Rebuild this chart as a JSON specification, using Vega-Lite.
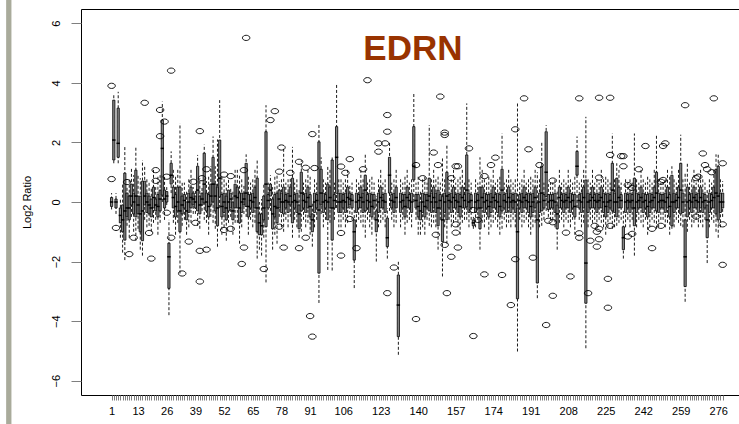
{
"$schema":"https://vega.github.io/schema/vega-lite/v6.json",
"width":658,"height":386,
"autosize":{"type":"none"},
"padding":{"left":81,"top":9,"right":0,"bottom":29},
"background":"white",
"config":{"view":{"stroke":"#000","strokeWidth":1},"font":"Liberation Sans","axis":{"grid":false}},
"datasets":{
"boxes":[
{"i":1,"lo":-0.25,"q1":-0.15,"md":0,"q3":0.15,"hi":0.3},
{"i":2,"lo":1.3,"q1":1.41,"md":2.08,"q3":3.42,"hi":3.59},
{"i":3,"lo":-0.4,"q1":-0.2,"md":0,"q3":0.1,"hi":0.3},
{"i":4,"lo":1.3,"q1":1.5,"md":1.97,"q3":3.15,"hi":3.7},
{"i":5,"lo":-1.2,"q1":-0.7,"md":-0.45,"q3":-0.2,"hi":0.1},
{"i":6,"lo":-1.7,"q1":-1,"md":-0.6,"q3":-0.1,"hi":0.6},
{"i":7,"lo":-1.95,"q1":-1.28,"md":-0.3,"q3":0.97,"hi":1.85},
{"i":8,"lo":-0.8,"q1":-0.5,"md":-0.2,"q3":0.3,"hi":0.5},
{"i":9,"lo":-1.2,"q1":-0.6,"md":-0.2,"q3":0.2,"hi":0.8},
{"i":10,"lo":-0.5,"q1":-0.1,"md":0.2,"q3":0.6,"hi":1.17},
{"i":11,"lo":-1,"q1":-0.4,"md":0,"q3":0.3,"hi":0.9},
{"i":12,"lo":-1.3,"q1":-0.5,"md":0.2,"q3":1.07,"hi":1.85},
{"i":13,"lo":-0.9,"q1":-0.4,"md":-0.1,"q3":0.2,"hi":0.9},
{"i":14,"lo":-1.6,"q1":-1,"md":-0.4,"q3":0.2,"hi":0.8},
{"i":15,"lo":-1.8,"q1":-1.3,"md":-0.3,"q3":0.7,"hi":1.4},
{"i":16,"lo":-0.6,"q1":-0.1,"md":0.2,"q3":0.7,"hi":1.2},
{"i":17,"lo":-0.85,"q1":-0.35,"md":0,"q3":0.3,"hi":0.8},
{"i":18,"lo":-0.8,"q1":-0.4,"md":-0.1,"q3":0.2,"hi":0.7},
{"i":19,"lo":-1,"q1":-0.5,"md":-0.2,"q3":0.1,"hi":0.5},
{"i":20,"lo":-0.7,"q1":-0.2,"md":0.15,"q3":0.5,"hi":1.1},
{"i":21,"lo":-0.6,"q1":-0.3,"md":-0.1,"q3":0.1,"hi":0.5},
{"i":22,"lo":-1.1,"q1":-0.5,"md":-0.15,"q3":0.25,"hi":0.85},
{"i":23,"lo":-0.7,"q1":-0.3,"md":0.1,"q3":0.4,"hi":0.9},
{"i":24,"lo":0,"q1":0.23,"md":1.8,"q3":2.75,"hi":3.37},
{"i":25,"lo":-0.6,"q1":-0.2,"md":0.1,"q3":0.4,"hi":0.9},
{"i":26,"lo":-0.1,"q1":0,"md":0.2,"q3":0.35,"hi":0.5},
{"i":27,"lo":-3.8,"q1":-2.9,"md":-1.84,"q3":-1.38,"hi":-0.6},
{"i":28,"lo":0.3,"q1":0.6,"md":0.9,"q3":1.3,"hi":1.7},
{"i":29,"lo":-0.7,"q1":-0.2,"md":0.15,"q3":0.5,"hi":1.1},
{"i":30,"lo":-1.1,"q1":-0.5,"md":-0.15,"q3":0.25,"hi":0.85},
{"i":31,"lo":-0.7,"q1":-0.3,"md":0,"q3":0.5,"hi":1.1},
{"i":32,"lo":-2.4,"q1":-1,"md":-0.3,"q3":0.5,"hi":2.64},
{"i":33,"lo":-0.8,"q1":-0.4,"md":-0.1,"q3":0.2,"hi":0.7},
{"i":34,"lo":-0.6,"q1":-0.2,"md":0.05,"q3":0.25,"hi":0.65},
{"i":35,"lo":-1.1,"q1":-0.6,"md":-0.3,"q3":0,"hi":0.4},
{"i":36,"lo":-0.85,"q1":-0.35,"md":0,"q3":0.3,"hi":0.8},
{"i":37,"lo":-0.7,"q1":-0.2,"md":0.15,"q3":0.5,"hi":1.1},
{"i":38,"lo":-0.4,"q1":-0.1,"md":0.1,"q3":0.3,"hi":0.5},
{"i":39,"lo":-0.4,"q1":-0.2,"md":0,"q3":0.2,"hi":0.4},
{"i":40,"lo":-0.8,"q1":-0.3,"md":0.4,"q3":1.2,"hi":1.58},
{"i":41,"lo":-0.9,"q1":-0.4,"md":-0.1,"q3":0.2,"hi":0.8},
{"i":42,"lo":-0.3,"q1":-0.1,"md":0.1,"q3":0.3,"hi":0.5},
{"i":43,"lo":-0.6,"q1":-0.03,"md":0.6,"q3":1.64,"hi":1.93},
{"i":44,"lo":-0.7,"q1":-0.3,"md":0,"q3":0.3,"hi":0.7},
{"i":45,"lo":-1.1,"q1":-0.5,"md":-0.15,"q3":0.25,"hi":0.85},
{"i":46,"lo":-0.5,"q1":-0.1,"md":0.2,"q3":0.6,"hi":1.2},
{"i":47,"lo":-0.7,"q1":0,"md":0.6,"q3":1.5,"hi":2.2},
{"i":48,"lo":-0.9,"q1":-0.3,"md":0.2,"q3":0.6,"hi":1.2},
{"i":49,"lo":-1.5,"q1":-0.8,"md":-0.2,"q3":0.5,"hi":2.1},
{"i":50,"lo":-0.2,"q1":0.17,"md":0.8,"q3":2.08,"hi":3.42},
{"i":51,"lo":-1.1,"q1":-0.5,"md":-0.15,"q3":0.25,"hi":0.85},
{"i":52,"lo":-0.85,"q1":-0.35,"md":0,"q3":0.3,"hi":0.8},
{"i":53,"lo":-1.3,"q1":-0.6,"md":-0.2,"q3":0.2,"hi":0.7},
{"i":54,"lo":-0.7,"q1":-0.3,"md":0,"q3":0.4,"hi":0.8},
{"i":55,"lo":-0.5,"q1":-0.2,"md":0.1,"q3":0.3,"hi":0.5},
{"i":56,"lo":-1.1,"q1":-0.6,"md":-0.3,"q3":0,"hi":0.4},
{"i":57,"lo":-0.7,"q1":-0.2,"md":0.2,"q3":0.6,"hi":1.1},
{"i":58,"lo":-0.7,"q1":-0.2,"md":0.15,"q3":0.5,"hi":1.1},
{"i":59,"lo":-1.4,"q1":-0.7,"md":-0.2,"q3":0.3,"hi":0.9},
{"i":60,"lo":-0.85,"q1":-0.35,"md":0,"q3":0.3,"hi":0.8},
{"i":61,"lo":-0.4,"q1":-0.1,"md":0.1,"q3":0.3,"hi":0.6},
{"i":62,"lo":-0.5,"q1":-0.15,"md":0.3,"q3":1.3,"hi":1.6},
{"i":63,"lo":-1.1,"q1":-0.5,"md":-0.15,"q3":0.25,"hi":0.85},
{"i":64,"lo":-0.6,"q1":-0.2,"md":0.05,"q3":0.25,"hi":0.65},
{"i":65,"lo":-0.85,"q1":-0.35,"md":0,"q3":0.3,"hi":0.8},
{"i":66,"lo":-0.7,"q1":-0.2,"md":0.15,"q3":0.5,"hi":1.1},
{"i":67,"lo":-1.9,"q1":-1,"md":-0.2,"q3":0.8,"hi":1.4},
{"i":68,"lo":-1.6,"q1":-1.1,"md":-0.7,"q3":-0.4,"hi":0},
{"i":69,"lo":-1.8,"q1":-1.1,"md":-0.8,"q3":-0.4,"hi":0.1},
{"i":70,"lo":-1.2,"q1":-0.6,"md":-0.2,"q3":0.2,"hi":0.6},
{"i":71,"lo":-2.7,"q1":-0.83,"md":0.6,"q3":2.36,"hi":3.25},
{"i":72,"lo":-0.6,"q1":-0.2,"md":0.05,"q3":0.25,"hi":0.65},
{"i":73,"lo":-0.3,"q1":0.2,"md":0.4,"q3":0.6,"hi":0.9},
{"i":74,"lo":-1.6,"q1":-0.9,"md":-0.4,"q3":0.1,"hi":0.5},
{"i":75,"lo":-1.1,"q1":-0.5,"md":-0.15,"q3":0.25,"hi":0.85},
{"i":76,"lo":-1.4,"q1":-0.7,"md":-0.2,"q3":0.3,"hi":0.9},
{"i":77,"lo":-0.5,"q1":-0.2,"md":0.1,"q3":0.4,"hi":0.7},
{"i":78,"lo":-0.85,"q1":-0.35,"md":0,"q3":0.3,"hi":0.8},
{"i":79,"lo":-1,"q1":-0.4,"md":0,"q3":0.5,"hi":1.85},
{"i":80,"lo":-0.6,"q1":-0.2,"md":0.05,"q3":0.25,"hi":0.65},
{"i":81,"lo":-0.85,"q1":-0.35,"md":0,"q3":0.3,"hi":0.8},
{"i":82,"lo":-0.5,"q1":-0.1,"md":0.2,"q3":0.5,"hi":0.8},
{"i":83,"lo":-1.2,"q1":-0.7,"md":0,"q3":0.8,"hi":1.85},
{"i":84,"lo":-0.6,"q1":-0.2,"md":0.05,"q3":0.25,"hi":0.65},
{"i":85,"lo":-0.85,"q1":-0.35,"md":0,"q3":0.3,"hi":0.8},
{"i":86,"lo":-1.2,"q1":-0.9,"md":-0.4,"q3":-0.1,"hi":0.4},
{"i":87,"lo":-1,"q1":-0.3,"md":0.3,"q3":1,"hi":1.4},
{"i":88,"lo":-0.6,"q1":-0.2,"md":0.05,"q3":0.25,"hi":0.65},
{"i":89,"lo":-0.85,"q1":-0.35,"md":0,"q3":0.3,"hi":0.8},
{"i":90,"lo":-0.7,"q1":-0.2,"md":0.15,"q3":0.5,"hi":1.1},
{"i":91,"lo":-1.1,"q1":-0.5,"md":-0.15,"q3":0.25,"hi":0.85},
{"i":92,"lo":-1.5,"q1":-1,"md":-0.6,"q3":-0.4,"hi":0},
{"i":93,"lo":-0.85,"q1":-0.35,"md":0,"q3":0.3,"hi":0.8},
{"i":94,"lo":-0.6,"q1":-0.2,"md":0.05,"q3":0.25,"hi":0.65},
{"i":95,"lo":-3.39,"q1":-2.39,"md":-0.27,"q3":2.02,"hi":2.64},
{"i":96,"lo":-0.4,"q1":-0.1,"md":0.3,"q3":1.1,"hi":1.5},
{"i":97,"lo":-0.85,"q1":-0.35,"md":0,"q3":0.3,"hi":0.8},
{"i":98,"lo":-0.6,"q1":-0.2,"md":0.05,"q3":0.25,"hi":0.65},
{"i":99,"lo":-2.28,"q1":-0.6,"md":0,"q3":0.6,"hi":1.2},
{"i":100,"lo":-0.7,"q1":-0.2,"md":0.15,"q3":0.5,"hi":1.1},
{"i":101,"lo":-2.3,"q1":-1.28,"md":-0.2,"q3":1.41,"hi":1.5},
{"i":102,"lo":-0.6,"q1":-0.2,"md":0.05,"q3":0.25,"hi":0.65},
{"i":103,"lo":-0.2,"q1":0.29,"md":1.5,"q3":2.53,"hi":3.98},
{"i":104,"lo":-0.85,"q1":-0.35,"md":0,"q3":0.3,"hi":0.8},
{"i":105,"lo":-0.85,"q1":-0.35,"md":0,"q3":0.3,"hi":0.8},
{"i":106,"lo":-0.6,"q1":-0.2,"md":0.05,"q3":0.25,"hi":0.65},
{"i":107,"lo":-0.85,"q1":-0.35,"md":0,"q3":0.3,"hi":0.8},
{"i":108,"lo":-0.7,"q1":-0.2,"md":0.15,"q3":0.5,"hi":1.1},
{"i":109,"lo":-0.4,"q1":-0.1,"md":0.1,"q3":0.3,"hi":0.6},
{"i":110,"lo":-0.6,"q1":-0.2,"md":0.05,"q3":0.25,"hi":0.65},
{"i":111,"lo":-2.89,"q1":-1.95,"md":-1,"q3":-0.6,"hi":-0.2},
{"i":112,"lo":-0.85,"q1":-0.35,"md":0,"q3":0.3,"hi":0.8},
{"i":113,"lo":-0.6,"q1":-0.2,"md":0.05,"q3":0.25,"hi":0.65},
{"i":114,"lo":-0.7,"q1":-0.2,"md":0.15,"q3":0.5,"hi":1.1},
{"i":115,"lo":-0.85,"q1":-0.35,"md":0,"q3":0.3,"hi":0.8},
{"i":116,"lo":-1.2,"q1":-0.3,"md":0.4,"q3":0.9,"hi":1.6},
{"i":117,"lo":-0.6,"q1":-0.2,"md":0.05,"q3":0.25,"hi":0.65},
{"i":118,"lo":-0.85,"q1":-0.35,"md":0,"q3":0.3,"hi":0.8},
{"i":119,"lo":-1.1,"q1":-0.5,"md":-0.15,"q3":0.25,"hi":0.85},
{"i":120,"lo":-0.6,"q1":-0.2,"md":0.05,"q3":0.25,"hi":0.65},
{"i":121,"lo":-2,"q1":-1,"md":-0.6,"q3":-0.3,"hi":0.2},
{"i":122,"lo":-0.85,"q1":-0.35,"md":0,"q3":0.3,"hi":0.8},
{"i":123,"lo":-0.7,"q1":-0.2,"md":0.15,"q3":0.5,"hi":1.1},
{"i":124,"lo":-0.6,"q1":-0.2,"md":0.05,"q3":0.25,"hi":0.65},
{"i":125,"lo":-0.85,"q1":-0.35,"md":0,"q3":0.3,"hi":0.8},
{"i":126,"lo":-1.9,"q1":-1.5,"md":-1.2,"q3":-0.54,"hi":-0.2},
{"i":127,"lo":-0.3,"q1":0.3,"md":0.9,"q3":1.5,"hi":2},
{"i":128,"lo":-0.6,"q1":-0.2,"md":0.05,"q3":0.25,"hi":0.65},
{"i":129,"lo":-0.85,"q1":-0.35,"md":0,"q3":0.3,"hi":0.8},
{"i":130,"lo":-0.7,"q1":-0.2,"md":0.15,"q3":0.5,"hi":1.1},
{"i":131,"lo":-5.13,"q1":-4.52,"md":-3.46,"q3":-2.45,"hi":-2},
{"i":132,"lo":-0.85,"q1":-0.35,"md":0,"q3":0.3,"hi":0.8},
{"i":133,"lo":-0.6,"q1":-0.2,"md":0.05,"q3":0.25,"hi":0.65},
{"i":134,"lo":-1.1,"q1":-0.5,"md":-0.15,"q3":0.25,"hi":0.85},
{"i":135,"lo":-0.7,"q1":-0.2,"md":0.15,"q3":0.5,"hi":1.1},
{"i":136,"lo":-0.6,"q1":-0.2,"md":0.05,"q3":0.25,"hi":0.65},
{"i":137,"lo":-0.85,"q1":-0.35,"md":0,"q3":0.3,"hi":0.8},
{"i":138,"lo":0,"q1":0.74,"md":1.2,"q3":2.53,"hi":3.65},
{"i":139,"lo":-0.6,"q1":-0.2,"md":0.05,"q3":0.25,"hi":0.65},
{"i":140,"lo":-1.1,"q1":-0.5,"md":-0.15,"q3":0.25,"hi":0.85},
{"i":141,"lo":-1.1,"q1":-0.6,"md":-0.3,"q3":0,"hi":0.4},
{"i":142,"lo":-0.85,"q1":-0.35,"md":0,"q3":0.3,"hi":0.8},
{"i":143,"lo":-1.1,"q1":-0.5,"md":-0.15,"q3":0.25,"hi":0.85},
{"i":144,"lo":-0.6,"q1":-0.2,"md":0.05,"q3":0.25,"hi":0.65},
{"i":145,"lo":-0.8,"q1":-0.3,"md":0.2,"q3":0.8,"hi":2.58},
{"i":146,"lo":-0.85,"q1":-0.35,"md":0,"q3":0.3,"hi":0.8},
{"i":147,"lo":-0.7,"q1":-0.2,"md":0.15,"q3":0.5,"hi":1.1},
{"i":148,"lo":-0.85,"q1":-0.35,"md":0,"q3":0.3,"hi":0.8},
{"i":149,"lo":-1.6,"q1":-0.8,"md":-0.2,"q3":0.4,"hi":0.9},
{"i":150,"lo":-0.6,"q1":-0.2,"md":0.05,"q3":0.25,"hi":0.65},
{"i":151,"lo":-2.5,"q1":-1.33,"md":-0.6,"q3":0.18,"hi":1.5},
{"i":152,"lo":-0.85,"q1":-0.35,"md":0,"q3":0.3,"hi":0.8},
{"i":153,"lo":-1.4,"q1":-0.6,"md":0.2,"q3":1,"hi":1.9},
{"i":154,"lo":-0.6,"q1":-0.2,"md":0.05,"q3":0.25,"hi":0.65},
{"i":155,"lo":-0.85,"q1":-0.35,"md":0,"q3":0.3,"hi":0.8},
{"i":156,"lo":-0.7,"q1":-0.2,"md":0.15,"q3":0.5,"hi":1.1},
{"i":157,"lo":-0.6,"q1":-0.2,"md":0.05,"q3":0.25,"hi":0.65},
{"i":158,"lo":-0.85,"q1":-0.35,"md":0,"q3":0.3,"hi":0.8},
{"i":159,"lo":-1.1,"q1":-0.5,"md":-0.15,"q3":0.25,"hi":0.85},
{"i":160,"lo":-0.7,"q1":-0.2,"md":0.15,"q3":0.5,"hi":1.1},
{"i":161,"lo":-0.6,"q1":-0.2,"md":0.05,"q3":0.25,"hi":0.65},
{"i":162,"lo":-0.6,"q1":-0.16,"md":0.4,"q3":1.58,"hi":3.31},
{"i":163,"lo":-0.85,"q1":-0.35,"md":0,"q3":0.3,"hi":0.8},
{"i":164,"lo":-0.6,"q1":-0.2,"md":0.05,"q3":0.25,"hi":0.65},
{"i":165,"lo":-0.9,"q1":-0.8,"md":-0.7,"q3":-0.6,"hi":-0.5},
{"i":166,"lo":-0.85,"q1":-0.35,"md":0,"q3":0.3,"hi":0.8},
{"i":167,"lo":-0.6,"q1":-0.2,"md":0.05,"q3":0.25,"hi":0.65},
{"i":168,"lo":-1.6,"q1":-0.9,"md":-0.2,"q3":0.5,"hi":1.5},
{"i":169,"lo":-0.7,"q1":-0.2,"md":0.15,"q3":0.5,"hi":1.1},
{"i":170,"lo":-0.85,"q1":-0.35,"md":0,"q3":0.3,"hi":0.8},
{"i":171,"lo":-0.6,"q1":-0.2,"md":0.05,"q3":0.25,"hi":0.65},
{"i":172,"lo":-1.1,"q1":-0.5,"md":-0.15,"q3":0.25,"hi":0.85},
{"i":173,"lo":-0.85,"q1":-0.35,"md":0,"q3":0.3,"hi":0.8},
{"i":174,"lo":-0.7,"q1":-0.2,"md":0.15,"q3":0.5,"hi":1.1},
{"i":175,"lo":-0.6,"q1":-0.2,"md":0.05,"q3":0.25,"hi":0.65},
{"i":176,"lo":-0.85,"q1":-0.35,"md":0,"q3":0.3,"hi":0.8},
{"i":177,"lo":-1.1,"q1":-0.5,"md":-0.15,"q3":0.25,"hi":0.85},
{"i":178,"lo":-0.9,"q1":-0.3,"md":0.4,"q3":1.1,"hi":2.3},
{"i":179,"lo":-0.6,"q1":-0.2,"md":0.05,"q3":0.25,"hi":0.65},
{"i":180,"lo":-0.85,"q1":-0.35,"md":0,"q3":0.3,"hi":0.8},
{"i":181,"lo":-0.7,"q1":-0.2,"md":0.15,"q3":0.5,"hi":1.1},
{"i":182,"lo":-0.85,"q1":-0.35,"md":0,"q3":0.3,"hi":0.8},
{"i":183,"lo":-0.6,"q1":-0.2,"md":0.05,"q3":0.25,"hi":0.65},
{"i":184,"lo":-0.85,"q1":-0.35,"md":0,"q3":0.3,"hi":0.8},
{"i":185,"lo":-5.02,"q1":-3.25,"md":-1,"q3":-0.2,"hi":3.36},
{"i":186,"lo":-0.6,"q1":-0.2,"md":0.05,"q3":0.25,"hi":0.65},
{"i":187,"lo":-0.85,"q1":-0.35,"md":0,"q3":0.3,"hi":0.8},
{"i":188,"lo":-0.7,"q1":-0.2,"md":0.15,"q3":0.5,"hi":1.1},
{"i":189,"lo":-0.6,"q1":-0.2,"md":0.05,"q3":0.25,"hi":0.65},
{"i":190,"lo":-0.85,"q1":-0.35,"md":0,"q3":0.3,"hi":0.8},
{"i":191,"lo":-1.1,"q1":-0.5,"md":-0.15,"q3":0.25,"hi":0.85},
{"i":192,"lo":-0.85,"q1":-0.35,"md":0,"q3":0.3,"hi":0.8},
{"i":193,"lo":-0.7,"q1":-0.2,"md":0.15,"q3":0.5,"hi":1.1},
{"i":194,"lo":-3.23,"q1":-2.72,"md":-0.6,"q3":-0.03,"hi":1},
{"i":195,"lo":-0.85,"q1":-0.35,"md":0,"q3":0.3,"hi":0.8},
{"i":196,"lo":-0.8,"q1":-0.3,"md":0.3,"q3":1.2,"hi":2},
{"i":197,"lo":-0.6,"q1":-0.2,"md":0.05,"q3":0.25,"hi":0.65},
{"i":198,"lo":-0.3,"q1":0.18,"md":1,"q3":2.36,"hi":2.58},
{"i":199,"lo":-0.5,"q1":-0.25,"md":0,"q3":0.25,"hi":0.6},
{"i":200,"lo":-0.6,"q1":-0.2,"md":0.05,"q3":0.25,"hi":0.65},
{"i":201,"lo":-0.6,"q1":-0.2,"md":0.05,"q3":0.25,"hi":0.65},
{"i":202,"lo":-0.85,"q1":-0.35,"md":0,"q3":0.3,"hi":0.8},
{"i":203,"lo":-1.6,"q1":-0.9,"md":-0.4,"q3":-0.1,"hi":0.4},
{"i":204,"lo":-0.7,"q1":-0.2,"md":0.15,"q3":0.5,"hi":1.1},
{"i":205,"lo":-0.6,"q1":-0.2,"md":0.05,"q3":0.25,"hi":0.65},
{"i":206,"lo":-0.85,"q1":-0.35,"md":0,"q3":0.3,"hi":0.8},
{"i":207,"lo":-0.6,"q1":-0.2,"md":0.05,"q3":0.25,"hi":0.65},
{"i":208,"lo":-0.7,"q1":-0.2,"md":0.15,"q3":0.5,"hi":1.1},
{"i":209,"lo":-0.85,"q1":-0.35,"md":0,"q3":0.3,"hi":0.8},
{"i":210,"lo":-0.6,"q1":-0.2,"md":0.05,"q3":0.25,"hi":0.65},
{"i":211,"lo":-1.1,"q1":-0.5,"md":-0.15,"q3":0.25,"hi":0.85},
{"i":212,"lo":-0.2,"q1":0.9,"md":1.2,"q3":1.7,"hi":2.2},
{"i":213,"lo":-0.6,"q1":-0.2,"md":0.05,"q3":0.25,"hi":0.65},
{"i":214,"lo":-0.85,"q1":-0.35,"md":0,"q3":0.3,"hi":0.8},
{"i":215,"lo":-0.7,"q1":-0.2,"md":0.15,"q3":0.5,"hi":1.1},
{"i":216,"lo":-4.91,"q1":-3.4,"md":-2.05,"q3":0.74,"hi":2.86},
{"i":217,"lo":-0.85,"q1":-0.35,"md":0,"q3":0.3,"hi":0.8},
{"i":218,"lo":-0.6,"q1":-0.2,"md":0.05,"q3":0.25,"hi":0.65},
{"i":219,"lo":-0.7,"q1":-0.2,"md":0.15,"q3":0.5,"hi":1.1},
{"i":220,"lo":-0.6,"q1":-0.2,"md":0.05,"q3":0.25,"hi":0.65},
{"i":221,"lo":-0.85,"q1":-0.35,"md":0,"q3":0.3,"hi":0.8},
{"i":222,"lo":-0.6,"q1":-0.2,"md":0.05,"q3":0.25,"hi":0.65},
{"i":223,"lo":-0.7,"q1":-0.2,"md":0.15,"q3":0.5,"hi":1.1},
{"i":224,"lo":-0.85,"q1":-0.35,"md":0,"q3":0.3,"hi":0.8},
{"i":225,"lo":-1.1,"q1":-0.5,"md":-0.15,"q3":0.25,"hi":0.85},
{"i":226,"lo":-0.85,"q1":-0.35,"md":0,"q3":0.3,"hi":0.8},
{"i":227,"lo":-0.6,"q1":-0.2,"md":0.05,"q3":0.25,"hi":0.65},
{"i":228,"lo":-0.9,"q1":-0.3,"md":0.4,"q3":1.3,"hi":2.3},
{"i":229,"lo":-0.85,"q1":-0.35,"md":0,"q3":0.3,"hi":0.8},
{"i":230,"lo":-0.8,"q1":-0.5,"md":0,"q3":0.8,"hi":1.3},
{"i":231,"lo":-0.7,"q1":-0.2,"md":0.15,"q3":0.5,"hi":1.1},
{"i":232,"lo":-0.6,"q1":-0.2,"md":0.05,"q3":0.25,"hi":0.65},
{"i":233,"lo":-1.9,"q1":-1.6,"md":-1.2,"q3":-0.83,"hi":-0.3},
{"i":234,"lo":-0.85,"q1":-0.35,"md":0,"q3":0.3,"hi":0.8},
{"i":235,"lo":-0.6,"q1":-0.2,"md":0.05,"q3":0.25,"hi":0.65},
{"i":236,"lo":-0.85,"q1":-0.35,"md":0,"q3":0.3,"hi":0.8},
{"i":237,"lo":-0.6,"q1":-0.2,"md":0.05,"q3":0.25,"hi":0.65},
{"i":238,"lo":-1.8,"q1":-0.8,"md":-0.2,"q3":0.8,"hi":2.3},
{"i":239,"lo":-0.85,"q1":-0.35,"md":0,"q3":0.3,"hi":0.8},
{"i":240,"lo":-0.6,"q1":-0.2,"md":0.05,"q3":0.25,"hi":0.65},
{"i":241,"lo":-0.7,"q1":-0.2,"md":0.15,"q3":0.5,"hi":1.1},
{"i":242,"lo":-0.85,"q1":-0.35,"md":0,"q3":0.3,"hi":0.8},
{"i":243,"lo":-0.6,"q1":-0.2,"md":0.05,"q3":0.25,"hi":0.65},
{"i":244,"lo":-1.1,"q1":-0.5,"md":-0.15,"q3":0.25,"hi":0.85},
{"i":245,"lo":-0.85,"q1":-0.35,"md":0,"q3":0.3,"hi":0.8},
{"i":246,"lo":-0.6,"q1":-0.2,"md":0.05,"q3":0.25,"hi":0.65},
{"i":247,"lo":-0.7,"q1":-0.2,"md":0.15,"q3":0.5,"hi":1.1},
{"i":248,"lo":-0.9,"q1":-0.3,"md":0.3,"q3":1,"hi":2.26},
{"i":249,"lo":-0.85,"q1":-0.35,"md":0,"q3":0.3,"hi":0.8},
{"i":250,"lo":-0.6,"q1":-0.2,"md":0.05,"q3":0.25,"hi":0.65},
{"i":251,"lo":-0.6,"q1":-0.2,"md":0.05,"q3":0.25,"hi":0.65},
{"i":252,"lo":-0.85,"q1":-0.35,"md":0,"q3":0.3,"hi":0.8},
{"i":253,"lo":-0.7,"q1":-0.2,"md":0.15,"q3":0.5,"hi":1.1},
{"i":254,"lo":-1.1,"q1":-0.5,"md":-0.15,"q3":0.25,"hi":0.85},
{"i":255,"lo":-0.9,"q1":-0.8,"md":0,"q3":0.9,"hi":1.2},
{"i":256,"lo":-0.85,"q1":-0.35,"md":0,"q3":0.3,"hi":0.8},
{"i":257,"lo":-0.6,"q1":-0.2,"md":0.05,"q3":0.25,"hi":0.65},
{"i":258,"lo":-0.7,"q1":-0.2,"md":0.15,"q3":0.5,"hi":1.1},
{"i":259,"lo":-0.8,"q1":-0.4,"md":0.4,"q3":1.3,"hi":2.26},
{"i":260,"lo":-0.85,"q1":-0.35,"md":0,"q3":0.3,"hi":0.8},
{"i":261,"lo":-3.35,"q1":-2.84,"md":-1.84,"q3":-0.6,"hi":1},
{"i":262,"lo":-1,"q1":-0.5,"md":0,"q3":0.5,"hi":1.3},
{"i":263,"lo":-0.6,"q1":-0.2,"md":0.05,"q3":0.25,"hi":0.65},
{"i":264,"lo":-0.85,"q1":-0.35,"md":0,"q3":0.3,"hi":0.8},
{"i":265,"lo":-0.7,"q1":-0.2,"md":0.15,"q3":0.5,"hi":1.1},
{"i":266,"lo":-0.6,"q1":-0.2,"md":0.05,"q3":0.25,"hi":0.65},
{"i":267,"lo":-0.85,"q1":-0.35,"md":0,"q3":0.3,"hi":0.8},
{"i":268,"lo":-0.7,"q1":-0.2,"md":0.15,"q3":0.5,"hi":1.1},
{"i":269,"lo":-0.85,"q1":-0.35,"md":0,"q3":0.3,"hi":0.8},
{"i":270,"lo":-0.6,"q1":-0.2,"md":0.05,"q3":0.25,"hi":0.65},
{"i":271,"lo":-2.05,"q1":-1.2,"md":-0.6,"q3":-0.1,"hi":0.4},
{"i":272,"lo":-0.85,"q1":-0.35,"md":0,"q3":0.3,"hi":0.8},
{"i":273,"lo":-0.6,"q1":-0.2,"md":0.05,"q3":0.25,"hi":0.65},
{"i":274,"lo":-0.7,"q1":-0.2,"md":0.15,"q3":0.5,"hi":1.1},
{"i":275,"lo":-1,"q1":-0.4,"md":0.3,"q3":1.1,"hi":1.6},
{"i":276,"lo":-1.2,"q1":-0.6,"md":0.2,"q3":1.2,"hi":1.6},
{"i":277,"lo":-0.85,"q1":-0.35,"md":0,"q3":0.3,"hi":0.8},
{"i":278,"lo":-0.5,"q1":-0.2,"md":0,"q3":0.3,"hi":0.7}
],
"outliers":[
{"i":1,"v":3.9},{"i":1,"v":0.77},{"i":3,"v":-0.87},{"i":8,"v":0.67},{"i":9,"v":-1.75},{"i":11,"v":-1.2},{"i":16,"v":3.33},{"i":18,"v":-1.04},{"i":19,"v":-1.9},{"i":21,"v":1.07},{"i":21,"v":0.71},{"i":23,"v":3.09},{"i":23,"v":2.21},{"i":25,"v":2.7},{"i":26,"v":0.85},{"i":26,"v":-0.36},{"i":28,"v":4.41},{"i":28,"v":-1.2},{"i":33,"v":-2.4},{"i":36,"v":-1.33},{"i":38,"v":0.68},{"i":39,"v":-0.7},{"i":41,"v":2.38},{"i":41,"v":-1.64},{"i":41,"v":-2.67},{"i":42,"v":0.8},{"i":44,"v":1.1},{"i":44,"v":-1.6},{"i":52,"v":-0.94},{"i":52,"v":0.92},{"i":55,"v":-0.9},{"i":55,"v":0.87},{"i":60,"v":-2.08},{"i":61,"v":-1.53},{"i":61,"v":1.07},{"i":62,"v":5.51},{"i":70,"v":-2.25},{"i":73,"v":2.75},{"i":75,"v":3.05},{"i":77,"v":1.02},{"i":77,"v":-0.83},{"i":78,"v":1.83},{"i":79,"v":-1.53},{"i":82,"v":0.98},{"i":86,"v":1.35},{"i":86,"v":-1.55},{"i":89,"v":1.15},{"i":89,"v":-1.2},{"i":91,"v":-3.83},{"i":92,"v":-4.52},{"i":92,"v":2.28},{"i":93,"v":1.14},{"i":105,"v":1.19},{"i":105,"v":-1.04},{"i":105,"v":-1.8},{"i":107,"v":0.98},{"i":109,"v":1.44},{"i":109,"v":-0.57},{"i":112,"v":-1.55},{"i":115,"v":1.1},{"i":117,"v":4.09},{"i":122,"v":1.97},{"i":122,"v":1.69},{"i":125,"v":1.97},{"i":126,"v":2.92},{"i":126,"v":2.36},{"i":126,"v":-3.06},{"i":129,"v":-2.2},{"i":139,"v":-3.93},{"i":139,"v":1.24},{"i":142,"v":0.8},{"i":147,"v":1.66},{"i":148,"v":-1.1},{"i":149,"v":1.24},{"i":150,"v":3.54},{"i":152,"v":2.33},{"i":152,"v":2.25},{"i":152,"v":-1.44},{"i":153,"v":-3.06},{"i":155,"v":-1.84},{"i":155,"v":0.8},{"i":157,"v":-1.03},{"i":157,"v":-0.75},{"i":157,"v":1.2},{"i":158,"v":-1.53},{"i":158,"v":1.2},{"i":163,"v":1.8},{"i":165,"v":-0.27},{"i":165,"v":-4.5},{"i":167,"v":-0.6},{"i":170,"v":0.87},{"i":170,"v":-2.43},{"i":173,"v":1.24},{"i":175,"v":1.49},{"i":178,"v":-2.45},{"i":182,"v":-3.46},{"i":184,"v":2.44},{"i":184,"v":-1.92},{"i":188,"v":3.48},{"i":190,"v":1.77},{"i":192,"v":-1.87},{"i":195,"v":1.24},{"i":198,"v":-4.13},{"i":199,"v":-0.63},{"i":201,"v":-3.15},{"i":201,"v":0.72},{"i":201,"v":-0.68},{"i":207,"v":-1.03},{"i":209,"v":-2.5},{"i":213,"v":3.48},{"i":213,"v":-1.05},{"i":213,"v":-1.2},{"i":217,"v":-3.06},{"i":218,"v":-1.3},{"i":220,"v":-0.8},{"i":221,"v":-1},{"i":221,"v":-1.5},{"i":222,"v":3.5},{"i":222,"v":-0.9},{"i":222,"v":-1.25},{"i":222,"v":0.82},{"i":226,"v":-2.58},{"i":226,"v":-3.55},{"i":227,"v":3.5},{"i":227,"v":1.58},{"i":227,"v":-0.8},{"i":232,"v":1.54},{"i":233,"v":1.54},{"i":233,"v":1.2},{"i":235,"v":0.57},{"i":235,"v":-1.16},{"i":237,"v":0.47},{"i":237,"v":-1.07},{"i":240,"v":1.1},{"i":243,"v":1.88},{"i":246,"v":-0.9},{"i":246,"v":-1.55},{"i":250,"v":0.68},{"i":250,"v":-0.8},{"i":251,"v":0.74},{"i":251,"v":1.88},{"i":252,"v":1.97},{"i":261,"v":3.25},{"i":266,"v":0.8},{"i":266,"v":-0.49},{"i":267,"v":0.85},{"i":269,"v":1.63},{"i":270,"v":1.24},{"i":271,"v":1.1},{"i":273,"v":1},{"i":274,"v":3.48},{"i":278,"v":1.3},{"i":278,"v":-0.75},{"i":278,"v":-2.11}
],
"label":[{"t":"EDRN"}],
"strip":[{"k":"edge"}]
},
"layer":[
{"data":{"name":"boxes"},"mark":{"type":"rule","strokeDash":[3,2],"strokeWidth":0.9,"color":"#000"},
 "encoding":{
  "x":{"field":"i","type":"quantitative","scale":{"domain":[-10.6,283.15],"nice":false,"zero":false},
   "axis":{"title":null,"tickCount":400,"values":[1,2,3,4,5,6,7,8,9,10,11,12,13,14,15,16,17,18,19,20,21,22,23,24,25,26,27,28,29,30,31,32,33,34,35,36,37,38,39,40,41,42,43,44,45,46,47,48,49,50,51,52,53,54,55,56,57,58,59,60,61,62,63,64,65,66,67,68,69,70,71,72,73,74,75,76,77,78,79,80,81,82,83,84,85,86,87,88,89,90,91,92,93,94,95,96,97,98,99,100,101,102,103,104,105,106,107,108,109,110,111,112,113,114,115,116,117,118,119,120,121,122,123,124,125,126,127,128,129,130,131,132,133,134,135,136,137,138,139,140,141,142,143,144,145,146,147,148,149,150,151,152,153,154,155,156,157,158,159,160,161,162,163,164,165,166,167,168,169,170,171,172,173,174,175,176,177,178,179,180,181,182,183,184,185,186,187,188,189,190,191,192,193,194,195,196,197,198,199,200,201,202,203,204,205,206,207,208,209,210,211,212,213,214,215,216,217,218,219,220,221,222,223,224,225,226,227,228,229,230,231,232,233,234,235,236,237,238,239,240,241,242,243,244,245,246,247,248,249,250,251,252,253,254,255,256,257,258,259,260,261,262,263,264,265,266,267,268,269,270,271,272,273,274,275,276,277,278],
    "labelExpr":"indexof([1,13,26,39,52,65,78,91,106,123,140,157,174,191,208,225,242,259,276], datum.value) >= 0 ? datum.label : ''",
    "labelOverlap":false,"labelFlush":false,"labelBound":false,"domain":false,"tickSize":5,"tickColor":"#7f7f7f","tickWidth":1,
    "labelFontSize":11,"labelColor":"#000","labelPadding":5,"grid":false}},
  "y":{"field":"lo","type":"quantitative","scale":{"domain":[-6.48,6.48],"nice":false,"zero":false},
   "axis":{"values":[-6,-4,-2,0,2,4,6],"labelAngle":-90,"labelAlign":"center","labelBaseline":"bottom","labelPadding":10,"tickSize":10,"tickColor":"#7f7f7f","tickWidth":1,"domain":false,
    "labelFontSize":11,"labelColor":"#000","title":"Log2 Ratio","titleFontSize":11,"titleFontWeight":"normal","titleColor":"#000","titlePadding":18,"grid":false}},
  "y2":{"field":"hi"}}},
{"data":{"name":"boxes"},"mark":{"type":"bar","size":2.2,"fill":"#888888","stroke":"#000","strokeWidth":0.8},
 "encoding":{"x":{"field":"i","type":"quantitative"},
  "y":{"field":"q1","type":"quantitative"},"y2":{"field":"q3"}}},
{"data":{"name":"boxes"},"mark":{"type":"tick","orient":"horizontal","size":3.4,"thickness":1.5,"color":"#000","opacity":1},
 "encoding":{"x":{"field":"i","type":"quantitative"},
  "y":{"field":"md","type":"quantitative"}}},
{"data":{"name":"outliers"},"mark":{"type":"point","shape":"M-1,0A1,0.7,0,1,0,1,0A1,0.7,0,1,0,-1,0Z","size":56,"filled":false,"stroke":"#000","strokeWidth":0.9,"opacity":1},
 "encoding":{"x":{"field":"i","type":"quantitative"},
  "y":{"field":"v","type":"quantitative"}}},
{"data":{"name":"label"},"mark":{"type":"text","fontSize":35,"fontWeight":"bold","color":"#993300","align":"center","baseline":"alphabetic","font":"Liberation Sans"},
 "encoding":{"x":{"datum":137.6,"type":"quantitative"},
  "y":{"datum":4.78,"type":"quantitative"},"text":{"field":"t"}}},
{"data":{"name":"strip"},"mark":{"type":"rect","clip":false,"color":"#a9ab9b"},
 "encoding":{"x":{"datum":-46.8,"type":"quantitative"},"x2":{"datum":-44.4},
 "y":{"datum":6.85,"type":"quantitative"},"y2":{"datum":-7.5}}}
]
}
